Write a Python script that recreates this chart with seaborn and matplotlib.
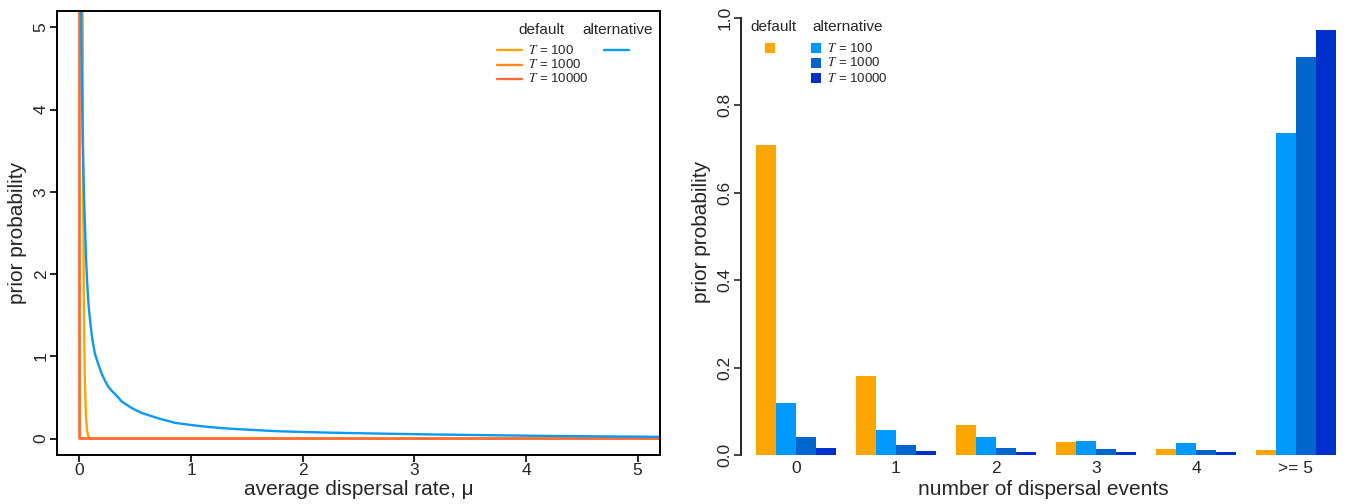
import numpy as np
import pandas as pd
import matplotlib
matplotlib.use("Agg")
import matplotlib.pyplot as plt
from matplotlib.lines import Line2D
from matplotlib.patches import Rectangle
import seaborn as sns

# ==============================
# Data
# ==============================

# left panel: prior densities of the average dispersal rate
t100_mu = [0.02, 0.025, 0.03, 0.035, 0.04, 0.045, 0.05, 0.06, 0.07, 0.08, 0.1, 5.3]
t100_dens = [13.5, 8.2, 5.0, 3.0, 1.8, 1.1, 0.67, 0.25, 0.09, 0.03, 0.0, 0.0]
t1000_mu = [0.0, 0.005, 5.3]
t1000_dens = [6.0, 0.0, 0.0]
t10000_mu = [0.0, 0.001, 5.3]
t10000_dens = [6.0, 0.0, 0.0]
alt_mu = [0.012, 0.02, 0.03, 0.045, 0.06, 0.07, 0.081, 0.096, 0.11, 0.125, 0.14,
          0.171, 0.2, 0.231, 0.26, 0.29, 0.321, 0.38, 0.47, 0.56, 0.71, 0.86,
          1.0, 1.16, 1.35, 1.55, 1.76, 2.0, 2.3, 2.7, 3.15, 3.6, 4.0, 4.6, 5.3]
alt_dens = [6.0, 4.6, 3.6, 2.8, 2.2, 1.9, 1.65, 1.435, 1.27, 1.14, 1.03,
            0.90, 0.79, 0.70, 0.63, 0.58, 0.54, 0.45, 0.37, 0.31, 0.245, 0.19,
            0.165, 0.14, 0.12, 0.105, 0.09, 0.08, 0.07, 0.06, 0.05, 0.042, 0.035, 0.027, 0.02]

# right panel: prior probability of number of dispersal events
event_labels = ["0", "1", "2", "3", "4", ">= 5"]
default_prob = [0.709, 0.180, 0.068, 0.030, 0.014, 0.012]
alt_t100_prob = [0.119, 0.057, 0.041, 0.033, 0.028, 0.737]
alt_t1000_prob = [0.041, 0.022, 0.017, 0.014, 0.012, 0.911]
alt_t10000_prob = [0.016, 0.010, 0.007, 0.006, 0.006, 0.972]

line_names = ["T=100", "T=1000", "T=10000", "alternative"]
line_colors = ["#FFA500", "#FF8A1C", "#FF6A3A", "#0A99F5"]
bar_names = ["default", "T=100", "T=1000", "T=10000"]
bar_colors = ["#FFA500", "#0099FF", "#0066CC", "#0030CC"]

# ==============================
# Tables
# ==============================

df_lines = pd.concat([
    pd.DataFrame({"mu": t100_mu, "density": t100_dens, "prior": "T=100"}),
    pd.DataFrame({"mu": t1000_mu, "density": t1000_dens, "prior": "T=1000"}),
    pd.DataFrame({"mu": t10000_mu, "density": t10000_dens, "prior": "T=10000"}),
    pd.DataFrame({"mu": alt_mu, "density": alt_dens, "prior": "alternative"}),
], ignore_index=True)

df_bars = pd.concat([
    pd.DataFrame({"events": event_labels, "prob": default_prob, "series": "default"}),
    pd.DataFrame({"events": event_labels, "prob": alt_t100_prob, "series": "T=100"}),
    pd.DataFrame({"events": event_labels, "prob": alt_t1000_prob, "series": "T=1000"}),
    pd.DataFrame({"events": event_labels, "prob": alt_t10000_prob, "series": "T=10000"}),
], ignore_index=True)

# ==============================
# Style
# ==============================

sns.set_style("ticks")
plt.rcParams["font.family"] = ["Liberation Sans", "DejaVu Sans"]
plt.rcParams["mathtext.fontset"] = "stix"
plt.rcParams["axes.linewidth"] = 1.4

W, H = 1350, 504
fig = plt.figure(figsize=(W / 100, H / 100), dpi=100)


def fx(x):
    return x / W


def fy(y):
    return 1 - y / H


# ==============================
# Left: density curves
# ==============================

ax1 = fig.add_axes([fx(57), fy(455), fx(660) - fx(57), fy(11) - fy(455)])
sns.lineplot(data=df_lines, x="mu", y="density", hue="prior", hue_order=line_names,
             palette=line_colors, estimator=None, linewidth=1.7, legend=False, ax=ax1)
ax1.set_xlim(-0.2, 5.2)
ax1.set_ylim(-0.2, 5.2)
ax1.set_xticks(range(6))
ax1.set_yticks(range(6))
ax1.tick_params(length=5, width=1.2, labelsize=12.5, pad=1, color="black")
for lab in ax1.get_yticklabels():
    lab.set_rotation(90)
    lab.set_va("center")
for s in ax1.spines.values():
    s.set_visible(True)
    s.set_color("black")
ax1.set_xlabel("average dispersal rate, μ", fontsize=15, labelpad=1)
ax1.set_ylabel("prior probability", fontsize=15, labelpad=5)

# legend (left)
fig.text(fx(541), fy(30), "default", fontsize=11, ha="center", va="center")
fig.text(fx(618), fy(30), "alternative", fontsize=11, ha="center", va="center")
for i, name in enumerate(["100", "1000", "10000"]):
    yy = 50 + i * 14.5
    fig.add_artist(Line2D([fx(497), fx(522)], [fy(yy), fy(yy)], color=line_colors[i],
                          lw=1.7, transform=fig.transFigure))
    fig.text(fx(528), fy(yy), f"$T$ = {name}", fontsize=9.5, ha="left", va="center")
fig.add_artist(Line2D([fx(604), fx(629)], [fy(50), fy(50)], color=line_colors[3],
                      lw=1.7, transform=fig.transFigure))

# ==============================
# Right: bar chart
# ==============================

ax2 = fig.add_axes([fx(741), fy(455), fx(1345) - fx(741), fy(8) - fy(455)])
sns.barplot(data=df_bars, x="events", y="prob", hue="series", order=event_labels,
            hue_order=bar_names, palette=bar_colors, saturation=1, width=0.8,
            linewidth=0, legend=False, ax=ax2)
ax2.set_xlim(-0.55, 5.49)
ax2.set_ylim(0, 447 / 437)
ax2.set_yticks([0.0, 0.2, 0.4, 0.6, 0.8, 1.0])
ax2.set_yticklabels(["0.0", "0.2", "0.4", "0.6", "0.8", "1.0"])
ax2.tick_params(axis="y", length=5, width=1.2, labelsize=12.5, pad=1)
ax2.tick_params(axis="x", length=0, labelsize=12.5, pad=4)
for lab in ax2.get_yticklabels():
    lab.set_rotation(90)
    lab.set_va("center")
for side in ["top", "right", "bottom"]:
    ax2.spines[side].set_visible(False)
ax2.spines["left"].set_bounds(0, 1)
ax2.set_xlabel("number of dispersal events", fontsize=15, labelpad=3)
ax2.set_ylabel("prior probability", fontsize=15, labelpad=5)

# legend (right)
fig.text(fx(773), fy(27), "default", fontsize=11, ha="center", va="center")
fig.text(fx(848), fy(27), "alternative", fontsize=11, ha="center", va="center")
fig.add_artist(Rectangle((fx(765), fy(53)), fx(10), fy(43) - fy(53), color=bar_colors[0],
                         lw=0, transform=fig.transFigure))
for i, name in enumerate(["100", "1000", "10000"]):
    yy = 48 + i * 15
    fig.add_artist(Rectangle((fx(811), fy(yy + 5)), fx(10), fy(yy - 5) - fy(yy + 5),
                             color=bar_colors[i + 1], lw=0, transform=fig.transFigure))
    fig.text(fx(827), fy(yy), f"$T$ = {name}", fontsize=9.5, ha="left", va="center")

fig.savefig("out.png", dpi=100)
